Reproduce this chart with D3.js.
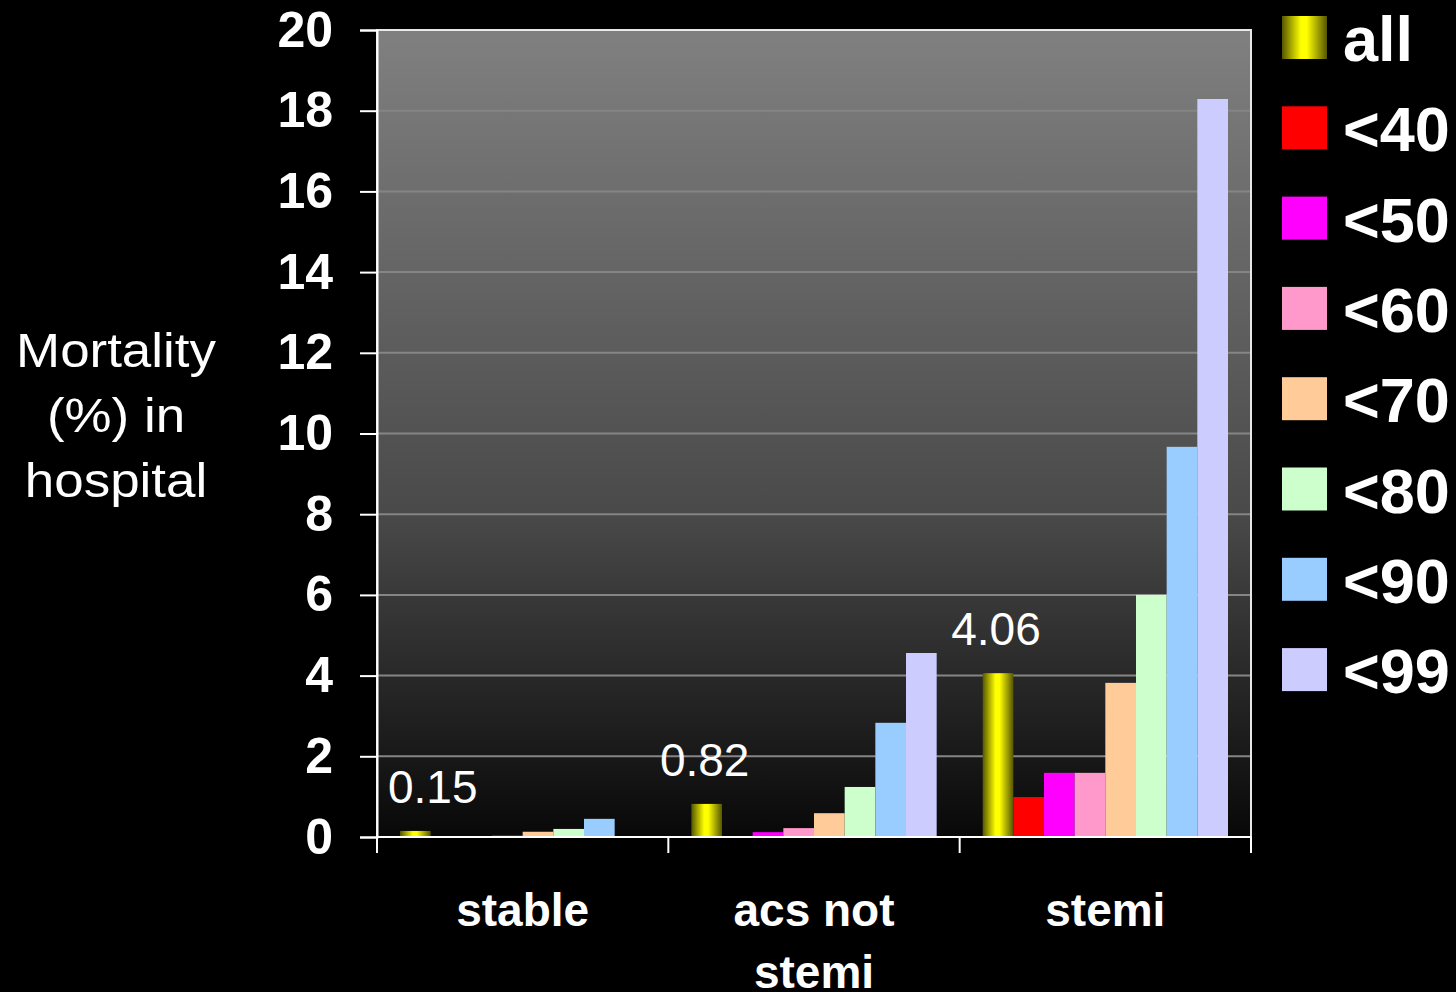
<!DOCTYPE html>
<html><head><meta charset="utf-8">
<script src="https://cdn.jsdelivr.net/npm/d3@7"></script>
<style>
html,body{margin:0;padding:0;background:#000;}
svg{display:block;font-family:"Liberation Sans",Arial,sans-serif;}
</style></head>
<body>
<svg id="chart" width="1456" height="992"></svg>
<script>
const categories = [["stable"], ["acs not", "stemi"], ["stemi"]];
const categoryKeys = ["stable", "acs not stemi", "stemi"];
const seriesNames = ["all", "<40", "<50", "<60", "<70", "<80", "<90", "<99"];
const seriesColors = ["url(#allGrad)", "#ff0000", "#ff00ff", "#ff99cc", "#ffcc99", "#ccffcc", "#99ccff", "#ccccff"];
const valAll = [0.15, 0.82, 4.06];
const val40 = [0, 0, 0.99];
const val50 = [0, 0.12, 1.59];
const val60 = [0.03, 0.22, 1.59];
const val70 = [0.13, 0.59, 3.82];
const val80 = [0.2, 1.24, 6.0];
const val90 = [0.45, 2.83, 9.67];
const val99 = [0, 4.56, 18.29];
const seriesValues = [valAll, val40, val50, val60, val70, val80, val90, val99];
const yTicks = [0, 2, 4, 6, 8, 10, 12, 14, 16, 18, 20];
const dataLabels = ["0.15", "0.82", "4.06"];
const titleLines = ["Mortality", "(%) in", "hospital"];

const svg = d3.select("#chart");
const X0 = 377, X1 = 1251, Y0 = 837, Y1 = 30;

const defs = svg.append("defs");
const bg = defs.append("linearGradient").attr("id", "bgGrad").attr("x1", 0).attr("y1", 0).attr("x2", 0).attr("y2", 1);
bg.append("stop").attr("offset", 0).attr("stop-color", "#808080");
bg.append("stop").attr("offset", 0.595).attr("stop-color", "#4a4a4a");
bg.append("stop").attr("offset", 1).attr("stop-color", "#080808");
const ag = defs.append("linearGradient").attr("id", "allGrad").attr("x1", 0).attr("y1", 0).attr("x2", 1).attr("y2", 0);
ag.append("stop").attr("offset", 0).attr("stop-color", "#555500");
ag.append("stop").attr("offset", 0.42).attr("stop-color", "#ffff00");
ag.append("stop").attr("offset", 0.55).attr("stop-color", "#ffff00");
ag.append("stop").attr("offset", 1).attr("stop-color", "#555500");

const x = d3.scaleBand().domain(categoryKeys).range([X0, X1]).padding(0);
const xi = d3.scaleBand().domain(seriesNames).range([0, x.bandwidth()]).paddingInner(0).paddingOuter(0.75);
const y = d3.scaleLinear().domain([0, 20]).range([Y0, Y1]);

// plot background
svg.append("rect").attr("x", X0).attr("y", Y1).attr("width", X1 - X0).attr("height", Y0 - Y1).attr("fill", "url(#bgGrad)");

// gridlines
svg.append("g").selectAll("line").data(yTicks.filter(t => t > 0 && t < 20)).join("line")
  .attr("x1", X0).attr("x2", X1).attr("y1", d => y(d)).attr("y2", d => y(d))
  .attr("stroke", "#858585").attr("stroke-width", 2);

// bars
const groups = svg.append("g").selectAll("g").data(categoryKeys).join("g")
  .attr("transform", d => `translate(${x(d)},0)`);
groups.selectAll("rect").data((d, ci) => seriesNames.map((s, si) => ({s, si, v: seriesValues[si][ci]}))).join("rect")
  .attr("x", d => xi(d.s)).attr("width", xi.bandwidth())
  .attr("y", d => y(d.v)).attr("height", d => y(0) - y(d.v))
  .attr("fill", d => seriesColors[d.si]);

// frame
svg.append("rect").attr("x", X0).attr("y", Y1).attr("width", X1 - X0).attr("height", Y0 - Y1)
  .attr("fill", "none").attr("stroke", "#e8e8e8").attr("stroke-width", 2);

// y axis
const yAxis = svg.append("g").attr("transform", `translate(${X0},0)`)
  .call(d3.axisLeft(y).tickValues(yTicks).tickSize(17).tickPadding(27));
yAxis.select(".domain").attr("stroke", "#fff").attr("stroke-width", 2);
yAxis.selectAll(".tick line").attr("stroke", "#fff").attr("stroke-width", 2);
yAxis.selectAll(".tick text").attr("fill", "#fff").attr("font-size", 50).attr("font-weight", "bold")
  .attr("font-family", "Liberation Sans, Arial, sans-serif");

// x axis ticks
const xBounds = [X0].concat(categoryKeys.map(k => x(k) + x.bandwidth()));
svg.append("g").selectAll("line").data(xBounds).join("line")
  .attr("x1", d => d).attr("x2", d => d).attr("y1", Y0).attr("y2", Y0 + 16)
  .attr("stroke", "#fff").attr("stroke-width", 2);
svg.append("line").attr("x1", X0).attr("x2", X1).attr("y1", Y0).attr("y2", Y0).attr("stroke", "#fff").attr("stroke-width", 2);

// x labels
const xl = svg.append("g").selectAll("text").data(categoryKeys).join("text")
  .attr("x", d => x(d) + x.bandwidth() / 2).attr("y", 926)
  .attr("text-anchor", "middle").attr("fill", "#fff").attr("font-size", 46).attr("font-weight", "bold");
xl.each(function(d, i) {
  d3.select(this).selectAll("tspan").data(categories[i]).join("tspan")
    .attr("x", x(d) + x.bandwidth() / 2).attr("dy", (t, j) => j === 0 ? 0 : 62).text(t => t);
});

// data labels
svg.append("g").selectAll("text").data(categoryKeys).join("text")
  .attr("text-anchor", "middle").attr("fill", "#fff").attr("font-size", 46)
  .attr("y", (d, i) => y(valAll[i]) - 28)
  .text((d, i) => dataLabels[i])
  .each(function(d) {
    const w = this.getComputedTextLength();
    const cx = x(d) + xi(seriesNames[0]) + xi.bandwidth() / 2 - 2;
    d3.select(this).attr("x", Math.max(cx, X0 + 11 + w / 2));
  });

// title
svg.append("g").attr("transform", "translate(116,0) scale(1.08,1)")
  .selectAll("text").data(titleLines).join("text")
  .attr("x", 0).attr("y", (d, i) => 367 + i * 65)
  .attr("text-anchor", "middle").attr("fill", "#fff").attr("font-size", 49).text(d => d);

// legend
const lg = svg.append("g").selectAll("g").data(seriesNames).join("g")
  .attr("transform", (d, i) => `translate(1282,${16 + i * 90.3})`);
lg.append("rect").attr("width", 45).attr("height", 43).attr("fill", (d, i) => seriesColors[i]);
lg.append("text").attr("x", 61).attr("y", 45)
  .attr("fill", "#fff").attr("font-size", 63).attr("font-weight", "bold").text(d => d);
</script>
</body></html>
